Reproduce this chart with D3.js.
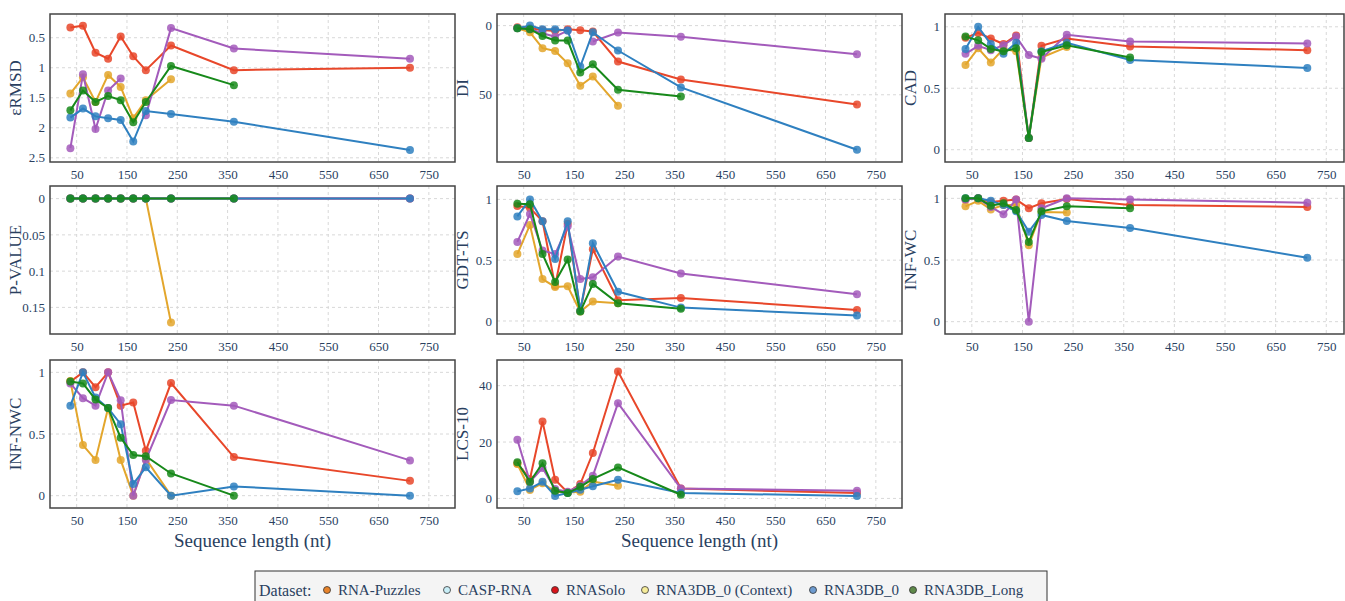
<!DOCTYPE html>
<html>
<head>
<meta charset="utf-8">
<script src="https://cdn.jsdelivr.net/npm/d3@7"></script>
<style>
  body { margin: 0; background: #fff; }
  svg { display: block; font-family: "Liberation Serif", "DejaVu Serif", serif; }
</style>
</head>
<body>
<svg id="chart" width="1345" height="601"></svg>
<script>
// sequence length bins (nt)
const lengths = [37.5, 62.5, 87.5, 112.5, 137.5, 162.5, 187.5, 237.5, 362.5, 712.5];
const xTicks = [50, 150, 250, 350, 450, 550, 650, 750];

// series order = drawing order: red, gold, purple, blue, green
const seriesColors = ["#e8472a", "#e3a62c", "#a35bbb", "#2f80c0", "#17891a"];

// each metric: [red, gold, purple, blue, green]; null = no value
const eRMSD = [
  [0.33, 0.30, 0.75, 0.85, 0.48, 0.81, 1.04, 0.63, 1.04, 1.00],
  [1.43, 1.16, 1.57, 1.12, 1.32, 1.84, 1.54, 1.19, null, null],
  [2.34, 1.11, 2.02, 1.38, 1.18, null, 1.79, 0.34, 0.68, 0.85],
  [1.83, 1.68, 1.81, 1.84, 1.87, 2.23, 1.72, 1.77, 1.90, 2.37],
  [1.71, 1.38, 1.57, 1.47, 1.54, 1.91, 1.57, 0.97, 1.29, null]
];
const DI = [
  [1.2, 1.9, 3.1, 3.8, 2.6, 3.4, 4.3, 26, 39, 57],
  [1.9, 4.8, 16.3, 18.3, 27.2, 43.5, 36.8, 57.9, null, null],
  [1.7, 2.4, 5.5, 8.0, 3.6, null, 11.5, 5.0, 8.0, 20.7],
  [1.9, 0, 2.6, 2.6, 3.6, 29.6, 4.8, 18.0, 44.7, 89.7],
  [1.9, 2.6, 7.5, 10.8, 10.8, 33.9, 27.9, 46.4, 51.2, null]
];
const CAD = [
  [0.91, 0.95, 0.905, 0.86, 0.93, 0.095, 0.845, 0.905, 0.84, 0.81],
  [0.69, 0.825, 0.71, 0.82, 0.80, 0.095, 0.75, 0.835, null, null],
  [0.78, 0.845, 0.81, 0.85, 0.92, 0.77, 0.74, 0.935, 0.88, 0.865],
  [0.82, 1.0, 0.86, 0.78, 0.87, 0.095, 0.80, 0.87, 0.73, 0.665],
  [0.92, 0.89, 0.82, 0.80, 0.825, 0.095, 0.795, 0.85, 0.75, null]
];
const PVALUE = [
  [0, 0, 0, 0, 0, 0, 0, 0, 0, 0],
  [0, 0, 0, 0, 0, 0, 0, 0.171, null, null],
  [0, 0, 0, 0, 0, 0, 0, 0, 0, 0],
  [0, 0, 0, 0, 0, 0, 0, 0, 0, 0],
  [0, 0, 0, 0, 0, 0, 0, 0, 0, null]
];
const GDTTS = [
  [0.945, 0.93, 0.82, 0.29, 0.80, 0.085, 0.59, 0.17, 0.19, 0.09],
  [0.55, 0.79, 0.345, 0.28, 0.285, 0.077, 0.16, 0.145, null, null],
  [0.65, 0.88, 0.58, 0.55, 0.78, 0.345, 0.36, 0.53, 0.39, 0.22],
  [0.86, 1.0, 0.82, 0.51, 0.82, 0.085, 0.64, 0.24, 0.11, 0.045],
  [0.965, 0.96, 0.55, 0.32, 0.505, 0.077, 0.305, 0.145, 0.10, null]
];
const INFWC = [
  [0.99, 1.0, 0.97, 0.98, 0.99, 0.92, 0.96, 0.995, 0.945, 0.93],
  [0.935, 0.98, 0.91, 0.945, 0.945, 0.62, 0.89, 0.885, null, null],
  [0.99, 1.0, 0.93, 0.87, 0.99, 0.0, 0.92, 1.0, 0.99, 0.965],
  [1.0, 1.0, 0.98, 0.945, 0.895, 0.73, 0.865, 0.817, 0.76, 0.518],
  [1.0, 1.0, 0.94, 0.96, 0.905, 0.645, 0.895, 0.935, 0.92, null]
];
const INFNWC = [
  [0.925, 1.0, 0.88, 1.0, 0.73, 0.755, 0.365, 0.913, 0.313, 0.12],
  [0.93, 0.41, 0.29, 0.71, 0.29, 0.0, 0.30, 0.0, null, null],
  [0.91, 0.79, 0.73, 1.0, 0.774, 0.0, 0.29, 0.775, 0.73, 0.286],
  [0.73, 1.0, 0.795, 0.71, 0.58, 0.095, 0.23, 0.0, 0.075, 0.0],
  [0.925, 0.91, 0.78, 0.71, 0.47, 0.33, 0.32, 0.18, 0.0, null]
];
const LCS10 = [
  [12.4, 6.9, 27.3, 6.6, 2.1, 5.1, 16.1, 45, 3.5, 1.9],
  [12.2, 3.0, 5.4, 2.4, 2.1, 2.4, 6.0, 4.5, null, null],
  [20.8, 5.9, 10.8, 3.3, 2.4, 4.5, 8.0, 33.8, 3.5, 2.7],
  [2.5, 3.5, 5.9, 0.9, 1.9, 3.1, 4.3, 6.6, 1.9, 0.9],
  [12.8, 5.9, 12.5, 2.7, 1.9, 4.1, 6.9, 11.0, 1.3, null]
];

const legendNames = ["RNA-Puzzles", "CASP-RNA", "RNASolo", "RNA3DB_0 (Context)", "RNA3DB_0", "RNA3DB_Long"];
const legendColors = ["#e8832a", "#c8eef7", "#d9141a", "#f6ec9a", "#6d9bd0", "#5f8a4a"];

const panels = [
  { title: "εRMSD", data: eRMSD, row: 0, col: 0, yDom: [0.105, 2.57], rev: true, yTicks: [0.5, 1, 1.5, 2, 2.5] },
  { title: "DI", data: DI, row: 0, col: 1, yDom: [-8.4, 98.6], rev: true, yTicks: [0, 50] },
  { title: "CAD", data: CAD, row: 0, col: 2, yDom: [-0.1, 1.104], rev: false, yTicks: [0, 0.5, 1] },
  { title: "P-VALUE", data: PVALUE, row: 1, col: 0, yDom: [-0.0174, 0.1867], rev: true, yTicks: [0, 0.05, 0.1, 0.15] },
  { title: "GDT-TS", data: GDTTS, row: 1, col: 1, yDom: [-0.107, 1.11], rev: false, yTicks: [0, 0.5, 1] },
  { title: "INF-WC", data: INFWC, row: 1, col: 2, yDom: [-0.1, 1.1], rev: false, yTicks: [0, 0.5, 1] },
  { title: "INF-NWC", data: INFNWC, row: 2, col: 0, yDom: [-0.1, 1.1], rev: false, yTicks: [0, 0.5, 1] },
  { title: "LCS-10", data: LCS10, row: 2, col: 1, yDom: [-3.4, 49.1], rev: false, yTicks: [0, 20, 40] }
];

const colLeft = [50, 497, 945];
const colWidth = [405, 405, 399];
const colXMax = [802, 802, 785];
const rowTop = [14, 186, 360];
const panelH = 148;
const textCol = "#2a3f5f";

const svg = d3.select("#chart");

panels.forEach(p => {
  const x0 = colLeft[p.col], y0 = rowTop[p.row], w = colWidth[p.col];
  const g = svg.append("g").attr("transform", `translate(${x0},${y0})`);

  const x = d3.scaleLinear().domain([-3, colXMax[p.col]]).range([0, w]);
  const y = d3.scaleLinear().domain(p.yDom).range(p.rev ? [0, panelH] : [panelH, 0]);

  // grid
  g.append("g").selectAll("line").data(xTicks).join("line")
    .attr("x1", d => x(d)).attr("x2", d => x(d))
    .attr("y1", 0).attr("y2", panelH)
    .attr("stroke", "#d8d8d8").attr("stroke-dasharray", "3,3");
  g.append("g").selectAll("line").data(p.yTicks).join("line")
    .attr("x1", 0).attr("x2", w)
    .attr("y1", d => y(d)).attr("y2", d => y(d))
    .attr("stroke", "#d8d8d8").attr("stroke-dasharray", "3,3");

  // axes (labels only)
  const xa = g.append("g").attr("transform", `translate(0,${panelH})`)
    .call(d3.axisBottom(x).tickValues(xTicks).tickSize(0).tickPadding(8));
  const ya = g.append("g")
    .call(d3.axisLeft(y).tickValues(p.yTicks).tickSize(0).tickPadding(5).tickFormat(d => String(d)));
  [xa, ya].forEach(a => {
    a.select(".domain").remove();
    a.selectAll("text").attr("fill", textCol).style("font-size", "13px")
      .style("font-family", "'Liberation Serif', serif");
  });

  // y title
  g.append("text")
    .attr("transform", `translate(-29,${panelH / 2}) rotate(-90)`)
    .attr("text-anchor", "middle").attr("fill", textCol)
    .style("font-size", "17px").text(p.title);

  // series
  const line = d3.line()
    .defined(d => d.v !== null)
    .x(d => x(d.x)).y(d => y(d.v));
  p.data.forEach((vals, i) => {
    const pts = vals.map((v, j) => ({ x: lengths[j], v: v }));
    g.append("path").datum(pts)
      .attr("d", line).attr("fill", "none")
      .attr("stroke", seriesColors[i]).attr("stroke-width", 2);
    g.append("g").selectAll("circle").data(pts.filter(d => d.v !== null)).join("circle")
      .attr("cx", d => x(d.x)).attr("cy", d => y(d.v)).attr("r", 4)
      .attr("fill", seriesColors[i]).attr("fill-opacity", 0.85);
  });

  // frame
  g.append("rect").attr("width", w).attr("height", panelH)
    .attr("fill", "none").attr("stroke", "#444").attr("stroke-width", 1.5);

  if (p.row === 2) {
    g.append("text").attr("x", w / 2).attr("y", panelH + 39)
      .attr("text-anchor", "middle").attr("fill", textCol)
      .style("font-size", "19px").text("Sequence length (nt)");
  }
});

// legend
const lg = svg.append("g").attr("transform", "translate(255,571)");
lg.append("rect").attr("width", 792).attr("height", 34)
  .attr("fill", "#f4f4f4").attr("stroke", "#333").attr("stroke-width", 1);
lg.append("text").attr("x", 4).attr("y", 25).attr("fill", textCol)
  .style("font-size", "16px").text("Dataset:");
const legX = [72, 192, 300, 390, 558, 658];
legendNames.forEach((n, i) => {
  lg.append("circle").attr("cx", legX[i]).attr("cy", 19).attr("r", 3.5)
    .attr("fill", legendColors[i]).attr("stroke", "#333").attr("stroke-width", 0.8);
  lg.append("text").attr("x", legX[i] + 11).attr("y", 24).attr("fill", textCol)
    .style("font-size", "15px").text(n);
});
</script>
</body>
</html>
